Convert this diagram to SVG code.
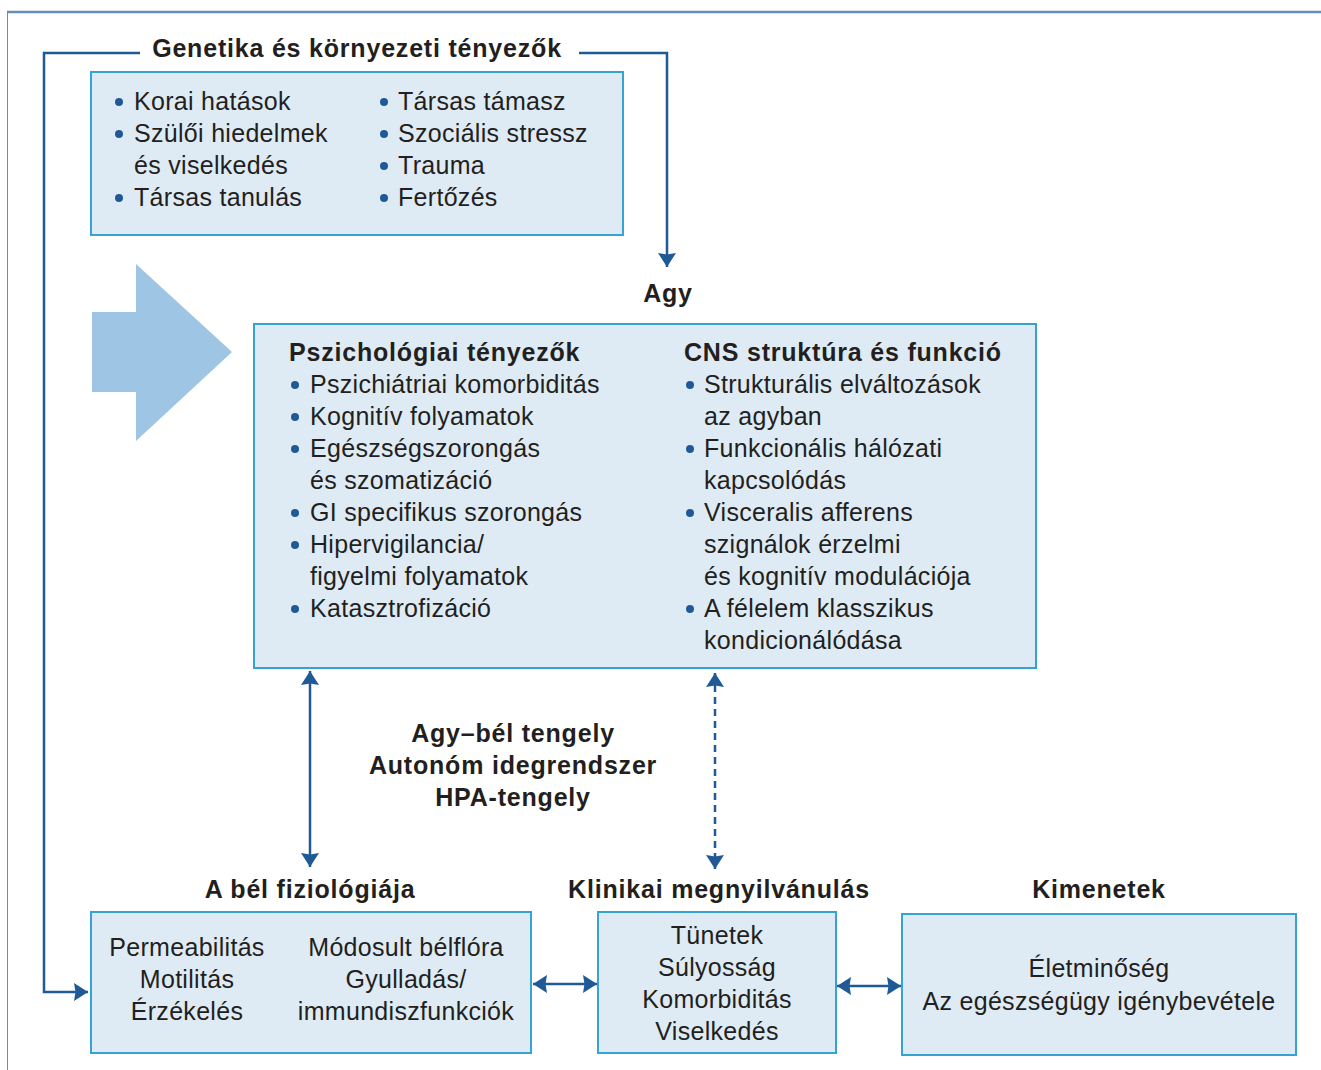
<svg xmlns="http://www.w3.org/2000/svg" width="1321" height="1070" viewBox="0 0 1321 1070">
<defs>
<marker id="ah" markerUnits="userSpaceOnUse" markerWidth="20" markerHeight="20" viewBox="0 0 20 20" refX="14" refY="10" orient="auto-start-reverse">
<path d="M0,1 L14,10 L0,19 L1.5,10 Z" fill="#1f5a96"/>
</marker>
</defs>
<style>
.box{fill:#deebf5;stroke:#35a3d6;stroke-width:2}
.t{font-family:"Liberation Sans",Arial,sans-serif;font-size:25px;letter-spacing:0.3px;fill:#231f20}
.b{font-family:"Liberation Sans",Arial,sans-serif;font-size:25px;letter-spacing:0.8px;font-weight:bold;fill:#231f20}
.c{text-anchor:middle}
.dot{fill:#1f5a96}
.con{fill:none;stroke:#1f5a96;stroke-width:2.5}
</style>
<rect width="1321" height="1070" fill="#fff"/>
<g id="frame">
<line x1="7" y1="12" x2="1321" y2="12" stroke="#648fbc" stroke-width="2.5"/>
<line x1="7.5" y1="11" x2="7.5" y2="1070" stroke="#648fbc" stroke-width="1"/>
</g>
<g id="big-arrow">
<polygon points="92,312 136,312 136,264 232,352 136,441 136,392 92,392" fill="#9fc5e5"/>
</g>
<g id="connectors">
<polyline class="con" points="140,53 44,53 44,992 88,992" marker-end="url(#ah)"/>
<polyline class="con" points="579,53 667,53 667,267" marker-end="url(#ah)"/>
<line class="con" x1="310" y1="671" x2="310" y2="867" marker-start="url(#ah)" marker-end="url(#ah)"/>
<line class="con" x1="715" y1="673" x2="715" y2="869" stroke-dasharray="7,5" marker-start="url(#ah)" marker-end="url(#ah)"/>
<line class="con" x1="533" y1="984" x2="597" y2="984" marker-start="url(#ah)" marker-end="url(#ah)"/>
<line class="con" x1="837" y1="986" x2="901" y2="986" marker-start="url(#ah)" marker-end="url(#ah)"/>
</g>
<g id="genetics">
<text class="b c" x="357" y="57">Genetika és környezeti tényezők</text>
<rect class="box" x="91" y="72" width="532" height="163"/>
<circle class="dot" cx="119" cy="102" r="4"/>
<circle class="dot" cx="119" cy="134" r="4"/>
<circle class="dot" cx="119" cy="198" r="4"/>
<text class="t" x="134" y="110">Korai hatások</text>
<text class="t" x="134" y="142">Szülői hiedelmek</text>
<text class="t" x="134" y="174">és viselkedés</text>
<text class="t" x="134" y="206">Társas tanulás</text>
<circle class="dot" cx="384" cy="102" r="4"/>
<circle class="dot" cx="384" cy="134" r="4"/>
<circle class="dot" cx="384" cy="166" r="4"/>
<circle class="dot" cx="384" cy="198" r="4"/>
<text class="t" x="398" y="110">Társas támasz</text>
<text class="t" x="398" y="142">Szociális stressz</text>
<text class="t" x="398" y="174">Trauma</text>
<text class="t" x="398" y="206">Fertőzés</text>
</g>
<g id="brain">
<text class="b c" x="668" y="302">Agy</text>
<rect class="box" x="254" y="324" width="782" height="344"/>
<text class="b" x="289" y="361">Pszichológiai tényezők</text>
<circle class="dot" cx="295" cy="385" r="4"/>
<circle class="dot" cx="295" cy="417" r="4"/>
<circle class="dot" cx="295" cy="449" r="4"/>
<circle class="dot" cx="295" cy="513" r="4"/>
<circle class="dot" cx="295" cy="545" r="4"/>
<circle class="dot" cx="295" cy="609" r="4"/>
<text class="t" x="310" y="393">Pszichiátriai komorbiditás</text>
<text class="t" x="310" y="425">Kognitív folyamatok</text>
<text class="t" x="310" y="457">Egészségszorongás</text>
<text class="t" x="310" y="489">és szomatizáció</text>
<text class="t" x="310" y="521">GI specifikus szorongás</text>
<text class="t" x="310" y="553">Hipervigilancia/</text>
<text class="t" x="310" y="585">figyelmi folyamatok</text>
<text class="t" x="310" y="617">Katasztrofizáció</text>
<text class="b" x="684" y="361">CNS struktúra és funkció</text>
<circle class="dot" cx="690" cy="385" r="4"/>
<circle class="dot" cx="690" cy="449" r="4"/>
<circle class="dot" cx="690" cy="513" r="4"/>
<circle class="dot" cx="690" cy="609" r="4"/>
<text class="t" x="704" y="393">Strukturális elváltozások</text>
<text class="t" x="704" y="425">az agyban</text>
<text class="t" x="704" y="457">Funkcionális hálózati</text>
<text class="t" x="704" y="489">kapcsolódás</text>
<text class="t" x="704" y="521">Visceralis afferens</text>
<text class="t" x="704" y="553">szignálok érzelmi</text>
<text class="t" x="704" y="585">és kognitív modulációja</text>
<text class="t" x="704" y="617">A félelem klasszikus</text>
<text class="t" x="704" y="649">kondicionálódása</text>
</g>
<g id="axis-label">
<text class="b c" x="513" y="742">Agy–bél tengely</text>
<text class="b c" x="513" y="774">Autonóm idegrendszer</text>
<text class="b c" x="513" y="806">HPA-tengely</text>
</g>
<g id="gut">
<text class="b c" x="310" y="898">A bél fiziológiája</text>
<rect class="box" x="91" y="912" width="440" height="141"/>
<text class="t c" x="187" y="956">Permeabilitás</text>
<text class="t c" x="187" y="988">Motilitás</text>
<text class="t c" x="187" y="1020">Érzékelés</text>
<text class="t c" x="406" y="956">Módosult bélflóra</text>
<text class="t c" x="406" y="988">Gyulladás/</text>
<text class="t c" x="406" y="1020">immundiszfunkciók</text>
</g>
<g id="clinical">
<text class="b c" x="719" y="898">Klinikai megnyilvánulás</text>
<rect class="box" x="598" y="912" width="238" height="141"/>
<text class="t c" x="717" y="944">Tünetek</text>
<text class="t c" x="717" y="976">Súlyosság</text>
<text class="t c" x="717" y="1008">Komorbiditás</text>
<text class="t c" x="717" y="1040">Viselkedés</text>
</g>
<g id="outcomes">
<text class="b c" x="1099" y="898">Kimenetek</text>
<rect class="box" x="902" y="914" width="394" height="141"/>
<text class="t c" x="1099" y="977">Életminőség</text>
<text class="t c" x="1099" y="1010">Az egészségügy igénybevétele</text>
</g>
</svg>
